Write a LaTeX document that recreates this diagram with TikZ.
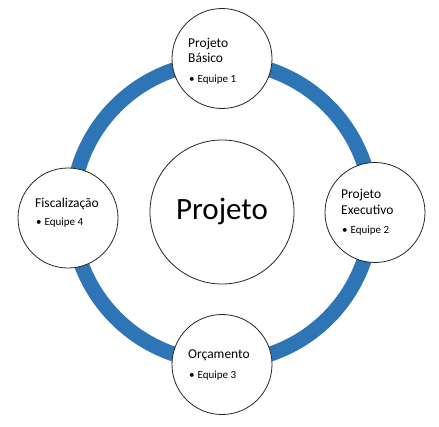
\documentclass[tikz,border=0pt]{standalone}
\usepackage{fontspec}
\setmainfont{Carlito}
\definecolor{ringblue}{HTML}{2E75B6}
\begin{document}
\begin{tikzpicture}[x=1pt,y=-1pt,
  bubble/.style={circle, draw=black!85, line width=0.8pt, fill=white, inner sep=0pt, minimum size=100pt},
  title/.style={anchor=base west, inner sep=0pt, font=\fontsize{13.5}{15}\selectfont, align=left},
  item/.style={anchor=base west, inner sep=0pt, font=\fontsize{11}{13}\selectfont}]
\useasboundingbox (0,0) rectangle (439,426);
\coordinate (c) at (222,212);
\draw[ringblue, line width=15pt] (c) circle[radius=150pt];
\node[bubble, minimum size=144pt] (center) at (c) {};
\node[anchor=base, inner sep=0pt, font=\fontsize{31}{36}\selectfont] (centertext) at (222,219) {Projeto};
\node[bubble] (top) at (222,58.5) {};
\node[bubble] (right) at (375,212.5) {};
\node[bubble] (bottom) at (222,364.5) {};
\node[bubble] (left) at (68,218) {};
% top
\node[title] (toptitle) at (188,47) {Projeto};
\node[title] (toptitle2) at (188,62) {Básico};
\node[item] (topitem) at (189,82) {•\hspace{3pt}Equipe 1};
% right
\node[title] (righttitle) at (341,198) {Projeto};
\node[title] (righttitle2) at (341,214) {Executivo};
\node[item] (rightitem) at (342,233) {•\hspace{3pt}Equipe 2};
% bottom
\node[title] (bottomtitle) at (188,358) {Orçamento};
\node[item] (bottomitem) at (189,378) {•\hspace{3pt}Equipe 3};
% left
\node[title] (lefttitle) at (35,207) {Fiscalização};
\node[item] (leftitem) at (36,225) {•\hspace{3pt}Equipe 4};
\end{tikzpicture}
\end{document}
